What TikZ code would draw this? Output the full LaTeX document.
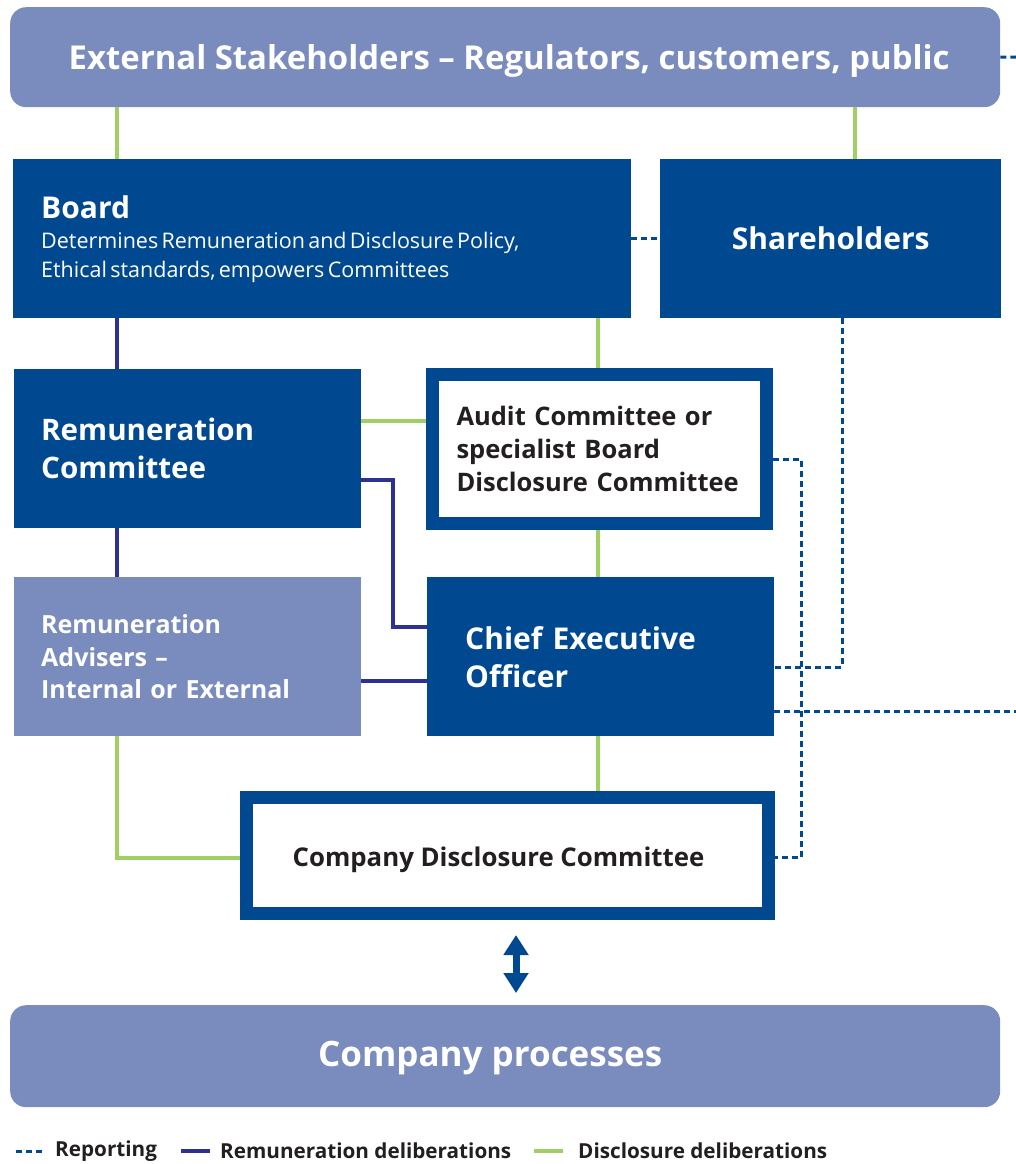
\documentclass[tikz,border=0pt]{standalone}
\usepackage{fontspec}
\setmainfont{Open Sans}
\usetikzlibrary{arrows.meta}

\definecolor{darkblue}{RGB}{0,73,144}
\definecolor{paleblue}{RGB}{122,140,190}
\definecolor{remunavy}{RGB}{46,49,146}
\definecolor{discgreen}{RGB}{160,207,100}
\definecolor{inkblack}{RGB}{35,31,32}

\newcommand{\fs}[2]{\fontsize{#1}{#2}\selectfont}
\newcommand{\sinktext}[2]{\raisebox{-#1}[\height][\depth]{#2}}

\begin{document}
\begin{tikzpicture}
  [
    x=1pt, y=-1pt,
    solidbox/.style={fill=darkblue, text=white, inner sep=0pt, anchor=north west, font=\bfseries},
    palebox/.style={fill=paleblue, text=white, inner sep=0pt, anchor=north west, font=\bfseries},
    framebox/.style={draw=darkblue, line width=13pt, fill=white, text=inkblack, inner sep=0pt, anchor=north west, font=\bfseries},
    roundbox/.style={palebox, rounded corners=16pt},
    disc/.style={discgreen, line width=4pt},
    remu/.style={remunavy, line width=4pt},
    report/.style={darkblue, line width=3pt, dash pattern=on 6pt off 4pt},
    bothway/.style={darkblue, line width=7pt, {Triangle[width=24pt,length=20pt]}-{Triangle[width=24pt,length=20pt]}},
    legend/.style={anchor=west, inner sep=0pt, text=inkblack, font=\bfseries\fs{20.7}{24}},
  ]

    \useasboundingbox (0,0) rectangle (1016,1164);

    % columns for the connectors
    \coordinate (colL) at (117,0);
    \coordinate (colM) at (598,0);
    \coordinate (colN) at (393,550);
    \coordinate (colR) at (855,0);
    \coordinate (colS) at (842,0);
    \coordinate (colD) at (801,600);
    \coordinate (extout) at (1016,57);
    \coordinate (ceoout) at (1016,711);

    % boxes
    \node [roundbox, minimum width=990pt, minimum height=100pt, font=\bfseries\fs{32.9}{36}] (ext) at (10,7)
      {\hspace*{8pt}\sinktext{4pt}{External Stakeholders -- Regulators, customers, public}};
    \node [solidbox, minimum width=618pt, minimum height=159pt, text width=562pt, align=left] (board) at (13,159)
      {{\fs{30}{34}Board\par}\vspace{1pt}{\fs{21.5}{29}\mdseries Determines Remuneration and Disclosure Policy,\\ Ethical standards, empowers Committees\par}};
    \node [solidbox, minimum width=341pt, minimum height=159pt, font=\bfseries\fs{30}{36}] (share) at (660,159)
      {Shareholders};
    \node [solidbox, minimum width=347pt, minimum height=159pt, text width=293pt, align=left, font=\bfseries\fs{29.6}{38}] (remcom) at (14,369)
      {Remuneration\\ Committee};
    \node [framebox, minimum width=334pt, minimum height=149pt, text width=286pt, align=left, font=\bfseries\fs{25.5}{33}] (audit) at (426,368)
      {Audit Committee or\\ specialist Board\\ Disclosure Committee};
    \node [palebox, minimum width=347pt, minimum height=159pt, text width=293pt, align=left, font=\bfseries\fs{25}{32.5}] (advisers) at (14,577)
      {Remuneration\\ Advisers --\\ Internal or External};
    \node [solidbox, minimum width=347pt, minimum height=159pt, text width=271pt, align=left, font=\bfseries\fs{30}{38}] (ceo) at (427,577)
      {Chief Executive\\ Officer};
    \node [framebox, minimum width=522pt, minimum height=116pt, font=\bfseries\fs{25.8}{30}] (cdc) at (240,791)
      {\sinktext{4pt}{Company Disclosure Committee}\hspace*{18pt}};
    \node [roundbox, minimum width=990pt, minimum height=102pt, font=\bfseries\fs{35}{40}] (proc) at (10,1005)
      {\sinktext{2pt}{Company processes}\hspace*{30pt}};

    % disclosure deliberations
    \draw [disc] (ext.south -| colL) -- (board.north -| colL);
    \draw [disc] (ext.south -| colR) -- (share.north -| colR);
    \draw [disc] (board.south -| colM) -- (audit.north -| colM);
    \draw [disc] ([yshift=28pt]remcom.east) -- ([yshift=28pt]remcom.east -| audit.west);
    \draw [disc] (audit.south -| colM) -- (ceo.north -| colM);
    \draw [disc] (ceo.south -| colM) -- (cdc.north -| colM);
    \draw [disc] (advisers.south -| colL) |- ([yshift=-2pt]cdc.west);

    % remuneration deliberations
    \draw [remu] (board.south -| colL) -- (remcom.north -| colL);
    \draw [remu] (remcom.south -| colL) -- (advisers.north -| colL);
    \draw [remu] ([yshift=-31.5pt]remcom.east) -| (colN) |- ([yshift=29.5pt]ceo.west);
    \draw [remu] ([yshift=-24.5pt]advisers.east) -- ([yshift=-24.5pt]advisers.east -| ceo.west);

    % reporting
    \draw [report] (ext.east) -- (extout);
    \draw [report] (board.east) -- (share.west);
    \draw [report] (share.south -| colS) |- ([yshift=-10.5pt]ceo.east);
    \draw [report] ([yshift=-10pt]audit.east) -| (colD) |- ([yshift=-2pt]cdc.east);
    \draw [report] (ceo.east |- ceoout) -- (ceoout);

    % processes
    \draw [bothway, shorten <=15pt, shorten >=12pt] ([xshift=8.5pt]cdc.south) -- ([xshift=8.5pt]cdc.south |- proc.north);

    % legend
    \node [legend] (legrep) at (55,1151) {Reporting};
    \node [legend] (legremu) at (220,1151) {Remuneration deliberations};
    \node [legend] (legdisc) at (578,1151) {Disclosure deliberations};
    \draw [report] ([xshift=-39pt]legrep.west) -- ([xshift=-11pt]legrep.west);
    \draw [remu] ([xshift=-39pt]legremu.west) -- ([xshift=-10pt]legremu.west);
    \draw [disc] ([xshift=-44pt]legdisc.west) -- ([xshift=-15pt]legdisc.west);
  \end{tikzpicture}
\end{document}
